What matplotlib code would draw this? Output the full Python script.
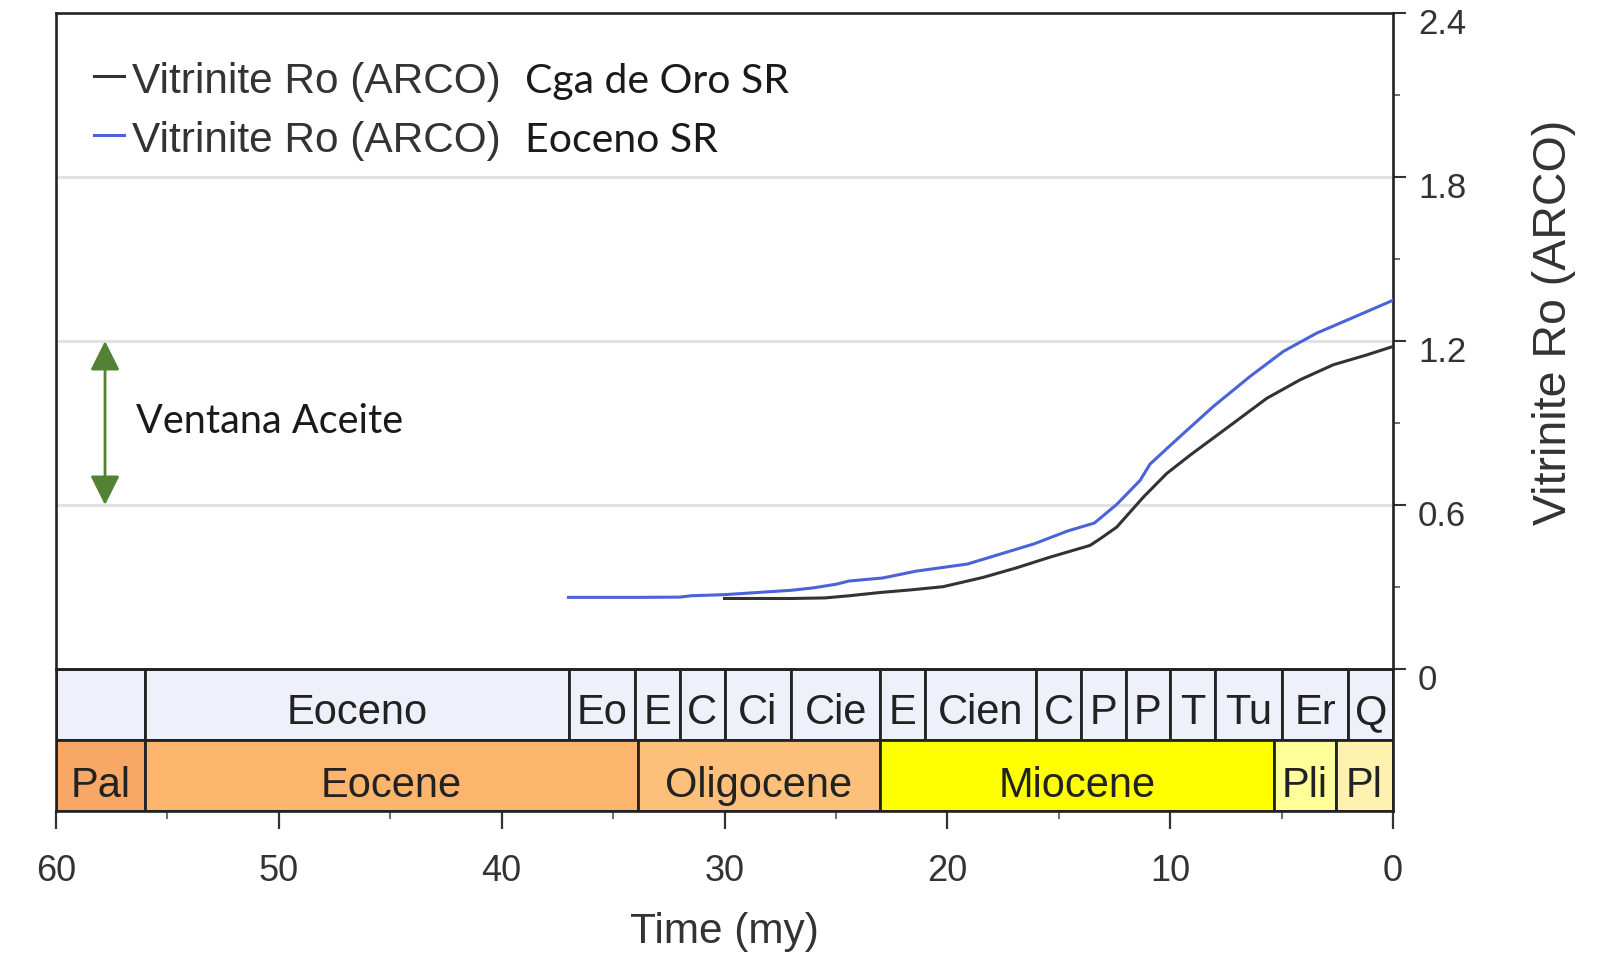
import matplotlib
matplotlib.use("Agg")
import matplotlib.pyplot as plt
from matplotlib.lines import Line2D
from matplotlib.ticker import FixedLocator
import matplotlib.transforms as mtransforms

# ---- data ----------------------------------------------------------------
# Vitrinite reflectance history (time in my before present, Ro in %)
cga_time = [30.0, 27.0, 25.5, 24.4, 23.0, 21.7, 20.2, 18.4, 16.9, 15.4, 13.6, 13.15,
            12.4, 11.2, 10.16, 9.11, 7.17, 5.67, 4.17, 2.68, 1.18, 0.0]
cga_ro = [0.258, 0.258, 0.260, 0.268, 0.280, 0.289, 0.301, 0.335, 0.370, 0.409, 0.452, 0.476,
          0.519, 0.629, 0.715, 0.782, 0.899, 0.990, 1.058, 1.113, 1.149, 1.180]

eoc_time = [37.0, 34.0, 32.0, 31.5, 30.0, 28.5, 27.0, 26.0, 25.0, 24.4, 22.9, 21.4, 19.1,
            17.6, 16.1, 14.6, 13.4, 12.4, 11.35, 10.9, 9.7, 8.07, 6.42, 4.92, 3.42, 1.93, 0.0]
eoc_ro = [0.262, 0.262, 0.263, 0.268, 0.272, 0.280, 0.288, 0.297, 0.310, 0.322, 0.333, 0.358,
          0.384, 0.421, 0.458, 0.505, 0.534, 0.602, 0.690, 0.750, 0.840, 0.960, 1.070, 1.162,
          1.229, 1.281, 1.349]

series_labels = ["Vitrinite Ro (ARCO)", "Vitrinite Ro (ARCO)"]
series_names = ["Cga de Oro SR", "Eoceno SR"]

# Oil window limits (Ro)
oil_window = [0.6, 1.2]
oil_window_label = "Ventana Aceite"

# Formation row
form_names = ["", "Eoceno", "Eo", "E", "C", "Ci", "Cie", "E", "Cien", "C", "P", "P",
              "T", "Tu", "Er", "Q"]
form_bounds = [60, 56, 37, 34, 32, 30, 27, 23, 21, 16, 14, 12, 10, 8, 5, 2, 0]

# Epoch row
epoch_names = ["Pal", "Eocene", "Oligocene", "Miocene", "Pli", "Pl"]
epoch_bounds = [60, 56, 33.9, 23.03, 5.33, 2.58, 0]
epoch_colors = ["#F7A866", "#FDB46C", "#FDC07A", "#FFFF00", "#FFFF99", "#FFF2AE"]

y_ticks = [0, 0.6, 1.2, 1.8, 2.4]
y_tick_labels = ["0", "0.6", "1.2", "1.8", "2.4"]
x_ticks = [60, 50, 40, 30, 20, 10, 0]

# ---- figure --------------------------------------------------------------
W, H = 1598, 959
fig = plt.figure(figsize=(W / 100, H / 100), dpi=100)

ARIAL = "Liberation Sans"
CALIBRI = "Lato"

left = 56 / W
right = 1393 / W
top_main = 1 - 13 / H
bot_main = 1 - 669 / H
bot_strat = 1 - 811 / H

ax = fig.add_axes([left, bot_main, right - left, top_main - bot_main])
axs = fig.add_axes([left, bot_strat, right - left, bot_main - bot_strat])

spine_w = 1.9

# main panel
ax.set_xlim(60, 0)
ax.set_ylim(0, 2.4)
ax.set_xticks([])
for s in ax.spines.values():
    s.set_linewidth(spine_w)
    s.set_color("#222222")
ax.yaxis.tick_right()
ax.yaxis.set_major_locator(FixedLocator(y_ticks))
ax.set_yticklabels(y_tick_labels)
ax.yaxis.set_minor_locator(FixedLocator([0.3, 0.9, 1.5, 2.1]))
ax.tick_params(axis="y", which="major", direction="out", length=9, width=1.5,
               color="#333333", pad=9, labelsize=25, labelcolor="#333333")
ax.tick_params(axis="y", which="minor", direction="out", length=5, width=1.2,
               color="#555555")
for lab in ax.get_yticklabels():
    lab.set_fontfamily(ARIAL)
    lab.set_transform(lab.get_transform() +
                      mtransforms.ScaledTranslation(0, -0.08, fig.dpi_scale_trans))
for gy in [0.6, 1.2, 1.8]:
    ax.axhline(gy, color="#E2E2E2", lw=2.2, zorder=0)

ax.plot(cga_time, cga_ro, color="#333333", lw=2.2, zorder=3, solid_joinstyle="round")
ax.plot(eoc_time, eoc_ro, color="#4A63D8", lw=2.2, zorder=4, solid_joinstyle="round")

# oil window arrow
ax.annotate("", xy=(57.8, oil_window[1]), xytext=(57.8, oil_window[0]),
            arrowprops=dict(arrowstyle="<|-|>,head_length=0.9,head_width=0.45",
                            mutation_scale=20, color="#548235", lw=2,
                            shrinkA=0, shrinkB=0))
fig.text(136 / W, 1 - 433 / H, oil_window_label, fontfamily=CALIBRI, fontsize=28.5,
         color="#1a1a1a", ha="left", va="baseline")

# legend
for i, (col, lab, name) in enumerate(zip(["#333333", "#4A63D8"], series_labels, series_names)):
    base = [93, 152][i]
    fig.add_artist(Line2D([94 / W, 124 / W], [1 - (base - 17) / H] * 2, color=col, lw=2.2))
    fig.text(132 / W, 1 - base / H, lab, fontfamily=ARIAL, fontsize=30.5,
             color="#333333", ha="left", va="baseline")
    fig.text(525 / W, 1 - base / H, name, fontfamily=CALIBRI, fontsize=29.5,
             color="#1a1a1a", ha="left", va="baseline")

# ylabel
fig.text(1554 / W, 1 - 322 / H, "Vitrinite Ro (ARCO)", rotation=90, fontfamily=ARIAL,
         fontsize=33.5, color="#333333", ha="center", va="center")

# stratigraphic panel
axs.set_xlim(60, 0)
axs.set_ylim(0, 2)
axs.set_yticks([])
for s in axs.spines.values():
    s.set_linewidth(spine_w)
    s.set_color("#222222")

for i, name in enumerate(form_names):
    a, b = form_bounds[i], form_bounds[i + 1]
    axs.barh(1.5, a - b, left=b, height=1.0, color="#EEF0FA", edgecolor="#222222",
             linewidth=2)
    if name:
        axs.text((a + b) / 2, 1.22, name, ha="center", va="baseline", fontfamily=ARIAL,
                 fontsize=30, color="#222222")
for i, name in enumerate(epoch_names):
    a, b = epoch_bounds[i], epoch_bounds[i + 1]
    axs.barh(0.5, a - b, left=b, height=1.0, color=epoch_colors[i], edgecolor="#222222",
             linewidth=2)
    axs.text((a + b) / 2, 0.2, name, ha="center", va="baseline", fontfamily=ARIAL,
             fontsize=30, color="#222222")

axs.xaxis.set_major_locator(FixedLocator(x_ticks))
axs.xaxis.set_minor_locator(FixedLocator([55, 45, 35, 25, 15, 5]))
axs.set_xticklabels([str(t) for t in x_ticks])
axs.tick_params(axis="x", which="major", direction="out", length=13, width=1.6,
                color="#333333", pad=18, labelsize=26, labelcolor="#333333")
axs.tick_params(axis="x", which="minor", direction="out", length=6, width=1.2,
                color="#555555")
for lab in axs.get_xticklabels():
    lab.set_fontfamily(ARIAL)

fig.text((left + right) / 2, 1 - 943 / H, "Time (my)", fontfamily=ARIAL, fontsize=30.5,
         color="#333333", ha="center", va="baseline")

fig.savefig("out.png", dpi=100, facecolor="white")
